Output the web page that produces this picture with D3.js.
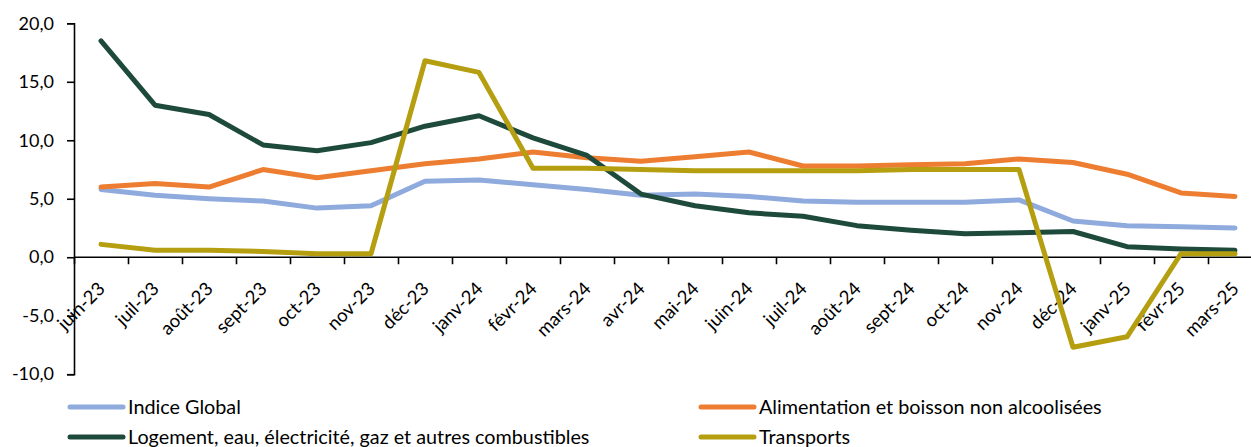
<!DOCTYPE html>
<html>
<head>
<meta charset="utf-8">
<script src="https://cdn.jsdelivr.net/npm/d3@7"></script>
<style>
  html, body { margin: 0; padding: 0; background: #fff; }
  svg { display: block; }
  text { font-family: Lato, "Open Sans", sans-serif; fill: #000; }
</style>
</head>
<body>
<svg id="chart" width="1251" height="447"></svg>
<script>
const months = ["juin-23","juil-23","août-23","sept-23","oct-23","nov-23","déc-23","janv-24","févr-24","mars-24","avr-24","mai-24","juin-24","juil-24","août-24","sept-24","oct-24","nov-24","déc-24","janv-25","févr-25","mars-25"];
const indiceGlobal = [5.8,5.3,5.0,4.8,4.2,4.4,6.5,6.6,6.2,5.8,5.3,5.4,5.2,4.8,4.7,4.7,4.7,4.9,3.1,2.7,2.6,2.5];
const alimentation = [6.0,6.3,6.0,7.5,6.8,7.4,8.0,8.4,9.0,8.5,8.2,8.6,9.0,7.8,7.8,7.9,8.0,8.4,8.1,7.1,5.5,5.2];
const logement = [18.5,13.0,12.2,9.6,9.1,9.8,11.2,12.1,10.2,8.7,5.4,4.4,3.8,3.5,2.7,2.3,2.0,2.1,2.2,0.9,0.7,0.6];
const transports = [1.1,0.6,0.6,0.5,0.3,0.3,16.8,15.8,7.6,7.6,7.5,7.4,7.4,7.4,7.4,7.5,7.5,7.5,-7.7,-6.8,0.3,0.3];
const yTicks = [-10,-5,0,5,10,15,20];
const seriesNames = ["Indice Global","Alimentation et boisson non alcoolisées","Logement, eau, électricité, gaz et autres combustibles","Transports"];
const seriesColors = ["#8FAADC","#ED7D31","#1E4A3B","#B59F10"];
const seriesData = [indiceGlobal, alimentation, logement, transports];

const svg = d3.select("#chart");
const mLeft = 74, mRight = 1262, mTop = 23.3, mBottom = 374.2;

const x = d3.scaleBand().domain(months).range([mLeft, mRight]).padding(0);
const xEdge = d3.scaleLinear().domain([0, months.length]).range([mLeft, mRight]);
const y = d3.scaleLinear().domain([-10, 20]).range([mBottom, mTop]);
const cx = d => x(d) + x.bandwidth() / 2;

// Y axis
const yAxis = svg.append("g").attr("transform", `translate(${mLeft},0)`)
  .call(d3.axisLeft(y).tickValues(yTicks).tickSize(7).tickPadding(13)
    .tickFormat(d => d3.format(".1f")(d).replace(".", ",").replace("−","-")));
yAxis.select(".domain").attr("stroke", "#000").attr("stroke-width", 1.6);
yAxis.selectAll(".tick line").attr("stroke", "#000").attr("stroke-width", 1.6);
yAxis.selectAll(".tick text").attr("font-size", 18).style("font-family", "Lato");

// X axis boundary ticks at y=0
const xAxis = svg.append("g").attr("transform", `translate(0,${y(0)})`)
  .call(d3.axisBottom(xEdge).tickValues(d3.range(months.length + 1)).tickSize(7).tickFormat(""));
xAxis.select(".domain").attr("stroke", "#000").attr("stroke-width", 1.6).attr("d", `M${mLeft},0H${mRight}`);
xAxis.selectAll(".tick line").attr("stroke", "#000").attr("stroke-width", 1.6);

// X labels rotated
svg.append("g").selectAll("text").data(months).join("text")
  .attr("transform", d => `translate(${cx(d) + 5},290) rotate(-45)`)
  .attr("text-anchor", "end")
  .attr("font-size", 18.5)
  .text(d => d);

// Lines
const line = d3.line().x((d, i) => cx(months[i])).y(d => y(d));
svg.append("g").selectAll("path").data(seriesData).join("path")
  .attr("d", d => line(d))
  .attr("fill", "none")
  .attr("stroke", (d, i) => seriesColors[i])
  .attr("stroke-width", 5)
  .attr("stroke-linejoin", "round")
  .attr("stroke-linecap", "round");

// Legend
const legendPos = [[70, 407], [701, 407], [70, 437], [701, 437]];
const lg = svg.append("g").selectAll("g").data(seriesNames).join("g")
  .attr("transform", (d, i) => `translate(${legendPos[i][0]},${legendPos[i][1]})`);
lg.append("line").attr("x1", 0).attr("x2", 53).attr("y1", 0).attr("y2", 0)
  .attr("stroke", (d, i) => seriesColors[i]).attr("stroke-width", 5).attr("stroke-linecap", "round");
lg.append("text").attr("x", 58).attr("y", 7).attr("font-size", 19.8).text(d => d);
</script>
</body>
</html>
